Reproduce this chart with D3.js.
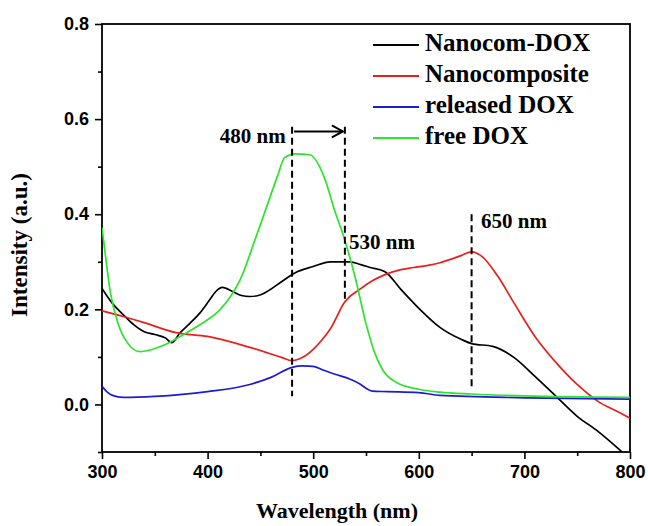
<!DOCTYPE html>
<meta charset="utf-8">
<script src="https://d3js.org/d3.v7.min.js"></script>
<style>
  body { margin: 0; background: #fff; }
</style>
<div id="my_dataviz"></div>
<script>

  // spectra as [wavelength (nm), intensity (a.u.)]
  var nanocomDox = [[300, 0.244], [310, 0.212], [320, 0.189], [330, 0.168], [340, 0.153], [350, 0.147], [360, 0.140], [366, 0.130],
    [374, 0.151], [383, 0.170], [393, 0.193], [402, 0.220], [408, 0.238], [414, 0.246], [424, 0.237], [432, 0.229], [440, 0.227],
    [448, 0.229], [456, 0.237], [470, 0.258], [483, 0.277], [500, 0.290], [516, 0.300], [535, 0.300], [545, 0.294], [554, 0.288],
    [568, 0.279], [583, 0.242], [601, 0.200], [620, 0.162], [640, 0.137], [650, 0.128], [670, 0.122], [690, 0.099], [710, 0.059],
    [730, 0.017], [750, -0.025], [770, -0.057], [790, -0.095], [800, -0.115]];

  var nanocomposite = [[300, 0.197], [320, 0.185], [340, 0.172], [370, 0.151], [400, 0.143], [440, 0.120], [470, 0.099], [480, 0.092],
    [490, 0.099], [500, 0.116], [508, 0.135], [516, 0.158], [530, 0.216], [544, 0.242], [556, 0.260], [568, 0.273], [582, 0.283],
    [595, 0.288], [610, 0.293], [620, 0.298], [630, 0.305], [640, 0.313], [650, 0.321], [660, 0.311], [675, 0.269], [690, 0.214],
    [710, 0.143], [730, 0.088], [750, 0.042], [770, 0.006], [790, -0.017], [800, -0.029]];

  var releasedDox = [[300, 0.038], [305, 0.026], [310, 0.019], [320, 0.015], [350, 0.017], [400, 0.027], [440, 0.042], [460, 0.057],
    [480, 0.078], [490, 0.081], [500, 0.080], [510, 0.072], [520, 0.064], [535, 0.053], [545, 0.042], [550, 0.034], [556, 0.028],
    [570, 0.027], [600, 0.025], [620, 0.019], [700, 0.014], [800, 0.011]];

  var freeDox = [[300, 0.372], [304, 0.300], [308, 0.235], [315, 0.172], [324, 0.130], [336, 0.111], [348, 0.116], [360, 0.126],
    [374, 0.143], [393, 0.168], [412, 0.200], [422, 0.228], [431, 0.263], [445, 0.347], [456, 0.416], [466, 0.479], [473, 0.519],
    [483, 0.527], [497, 0.525], [506, 0.500], [512, 0.468], [520, 0.410], [530, 0.345], [540, 0.265], [550, 0.170], [558, 0.110],
    [566, 0.072], [579, 0.046], [600, 0.032], [620, 0.026], [650, 0.022], [700, 0.018], [800, 0.015]];

  var seriesNames = ["Nanocom-DOX", "Nanocomposite", "released DOX", "free DOX"];
  var seriesColors = ["#000000", "#e8201c", "#1c1cd2", "#2ee22e"];
  var seriesData = [nanocomDox, nanocomposite, releasedDox, freeDox];

  var xMajor = [300, 400, 500, 600, 700, 800],
    xMinor = [350, 450, 550, 650, 750],
    yMajor = [0.0, 0.2, 0.4, 0.6, 0.8],
    yMinor = [-0.1, 0.1, 0.3, 0.5, 0.7];

  // [wavelength, y from, y to, label, label wavelength, label y]
  var markers = [[480, 0.584, 0.017, "480 nm", 474, 0.560],
    [530, 0.584, 0.216, "530 nm", 534, 0.336],
    [650, 0.400, 0.032, "650 nm", 659, 0.382]];

  var margin = { top: 24, right: 18, bottom: 74, left: 102 },
    width = 648 - margin.left - margin.right,
    height = 526 - margin.top - margin.bottom;

  var svg = d3.select("#my_dataviz")
    .append("svg")
    .attr("width", 648)
    .attr("height", 526)
    .append("g")
    .attr("transform", "translate(" + margin.left + "," + margin.top + ")");

  var x = d3.scaleLinear().domain([300, 800]).range([0, width]),
    y = d3.scaleLinear().domain([-0.1, 0.8]).range([height, 0]);

  svg.append("clipPath").attr("id", "plot-clip")
    .append("rect").attr("width", width).attr("height", height);

  // axes: labelled major ticks plus short minor ticks
  function styleAxis(g) {
    g.select(".domain").remove();
    g.selectAll("line").attr("stroke", "#000").attr("stroke-width", 1.6);
    g.selectAll("text")
      .style("font-family", "'Liberation Sans', Arial, sans-serif")
      .style("font-weight", "bold")
      .style("font-size", "18px")
      .attr("fill", "#000");
  }

  svg.append("g")
    .attr("transform", "translate(0," + height + ")")
    .call(d3.axisBottom(x).tickValues(xMajor).tickSize(7).tickPadding(6).tickFormat(d3.format("d")))
    .call(styleAxis);
  svg.append("g")
    .attr("transform", "translate(0," + height + ")")
    .call(d3.axisBottom(x).tickValues(xMinor).tickSize(4).tickFormat(""))
    .call(styleAxis);

  svg.append("g")
    .call(d3.axisLeft(y).tickValues(yMajor).tickSize(7).tickPadding(6).tickFormat(d3.format(".1f")))
    .call(styleAxis);
  svg.append("g")
    .call(d3.axisLeft(y).tickValues(yMinor).tickSize(4).tickFormat(""))
    .call(styleAxis);

  // frame
  svg.append("rect")
    .attr("width", width)
    .attr("height", height)
    .attr("fill", "none")
    .attr("stroke", "#000")
    .attr("stroke-width", 1.8);

  // spectra
  var line = d3.line()
    .x(function (d) { return x(d[0]); })
    .y(function (d) { return y(d[1]); })
    .curve(d3.curveMonotoneX);

  svg.append("g")
    .attr("clip-path", "url(#plot-clip)")
    .selectAll("path")
    .data(seriesData)
    .enter()
    .append("path")
    .attr("d", line)
    .attr("fill", "none")
    .attr("stroke", function (d, i) { return seriesColors[i]; })
    .attr("stroke-width", 1.7);

  // peak markers
  var serif = "'Liberation Serif', 'Times New Roman', serif";
  markers.forEach(function (m) {
    svg.append("line")
      .attr("x1", x(m[0])).attr("x2", x(m[0]))
      .attr("y1", y(m[1])).attr("y2", y(m[2]))
      .attr("stroke", "#000")
      .attr("stroke-width", 2)
      .attr("stroke-dasharray", "7,4");
    svg.append("text")
      .attr("x", x(m[4]))
      .attr("y", y(m[5]))
      .attr("text-anchor", m[4] < m[0] ? "end" : "start")
      .attr("dominant-baseline", "middle")
      .style("font-family", serif)
      .style("font-weight", "bold")
      .style("font-size", "21px")
      .text(m[3]);
  });

  // shift arrow 480 -> 530
  var arrowY = y(0.574);
  svg.append("line")
    .attr("x1", x(480) + 2).attr("x2", x(530) - 2)
    .attr("y1", arrowY).attr("y2", arrowY)
    .attr("stroke", "#000").attr("stroke-width", 2);
  svg.append("path")
    .attr("d", "M" + (x(530) - 13) + "," + (arrowY - 6) + " L" + (x(530) - 2) + "," + arrowY + " L" + (x(530) - 13) + "," + (arrowY + 6))
    .attr("fill", "none").attr("stroke", "#000").attr("stroke-width", 2);

  // legend
  var legend = svg.append("g").attr("transform", "translate(271,21)");
  seriesNames.forEach(function (name, i) {
    var row = legend.append("g").attr("transform", "translate(0," + (i * 31) + ")");
    row.append("line")
      .attr("x1", 0).attr("x2", 46)
      .attr("stroke", seriesColors[i]).attr("stroke-width", 1.8);
    row.append("text")
      .attr("x", 52)
      .attr("dominant-baseline", "middle")
      .style("font-family", serif)
      .style("font-weight", "bold")
      .style("font-size", "25px")
      .text(name);
  });

  // axis titles
  svg.append("text")
    .attr("x", 235)
    .attr("y", height + 66)
    .attr("text-anchor", "middle")
    .style("font-family", serif)
    .style("font-weight", "bold")
    .style("font-size", "22px")
    .text("Wavelength (nm)");

  svg.append("text")
    .attr("transform", "translate(-80," + (245 - margin.top) + ") rotate(-90)")
    .attr("text-anchor", "middle")
    .attr("dominant-baseline", "middle")
    .style("font-family", serif)
    .style("font-weight", "bold")
    .style("font-size", "23px")
    .text("Intensity (a.u.)");

</script>
